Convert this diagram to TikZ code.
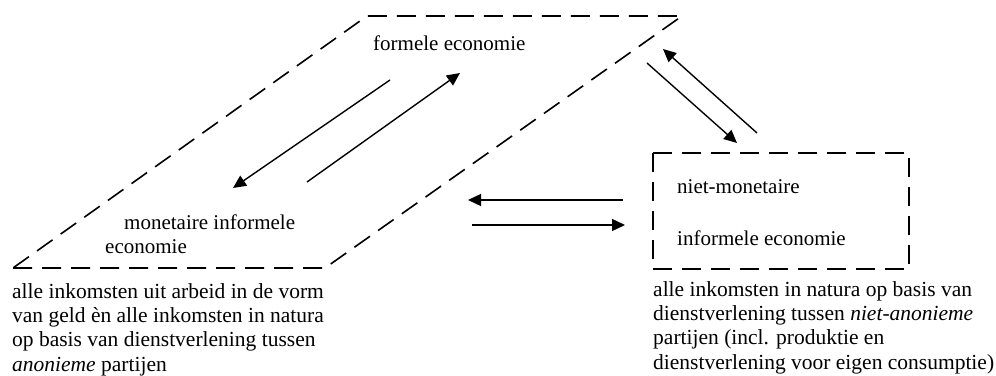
\documentclass[tikz,border=0pt]{standalone}
\usepackage{fontspec}
\setmainfont{Liberation Serif}
\usetikzlibrary{arrows.meta}
\begin{document}
\begin{tikzpicture}[x=1pt,y=-1pt,
  dashline/.style={line width=1.6pt,dash pattern=on 19pt off 10pt},
  arr/.style={line width=1.4pt,-{Triangle[length=13pt,width=12pt]}},
  lbl/.style={inner sep=0pt,font=\fontsize{21}{24}\selectfont},
  blk/.style={inner sep=0pt,align=left,anchor=north west,font=\fontsize{21.5}{24.3}\selectfont}]
\useasboundingbox (0,0) rectangle (996,375);
% parallelogram
\coordinate (pBL) at (13,268);
\coordinate (pBR) at (325,268);
\coordinate (pTR) at (682,16);
\coordinate (pTL) at (367,16);
\draw[dashline] (pBL) -- (pBR) -- (pTR) -- (pTL) -- cycle;
% rectangle
\coordinate (rTL) at (653,153);
\coordinate (rBR) at (909,269);
\draw[dashline] (rTL) rectangle (rBR);
% labels
\node[lbl,anchor=west] (formal) at (373,43) {formele economie};
\node[lbl,anchor=west] (mon1) at (124,222) {monetaire informele};
\node[lbl,anchor=west] (mon2) at (105,247) {economie};
\node[lbl,anchor=west] (niet1) at (677,187) {niet-monetaire};
\node[lbl,anchor=west] (niet2) at (677,238) {informele economie};
% arrows
\coordinate (a1s) at (390,80);  \coordinate (a1e) at (233,188);
\coordinate (a2s) at (307,182); \coordinate (a2e) at (460,73);
\coordinate (a3s) at (757,133); \coordinate (a3e) at (663,49);
\coordinate (a4s) at (647,63);  \coordinate (a4e) at (737,143);
\coordinate (a5s) at (623,200); \coordinate (a5e) at (468,200);
\coordinate (a6s) at (472,225); \coordinate (a6e) at (625,225);
\draw[arr] (a1s) -- (a1e);
\draw[arr] (a2s) -- (a2e);
\draw[arr] (a3s) -- (a3e);
\draw[arr] (a4s) -- (a4e);
\draw[arr] (a5s) -- (a5e);
\draw[arr] (a6s) -- (a6e);
% bottom texts
\node[blk] (leftdesc) at (12,283) {alle inkomsten uit arbeid in de vorm\\van geld èn alle inkomsten in natura\\op basis van dienstverlening tussen\\\textit{anonieme} partijen};
\node[blk] (rightdesc) at (653,281) {alle inkomsten in natura op basis van\\dienstverlening tussen \textit{niet-anonieme}\\partijen (incl. produktie en\\dienstverlening voor eigen consumptie)};
\end{tikzpicture}
\end{document}
